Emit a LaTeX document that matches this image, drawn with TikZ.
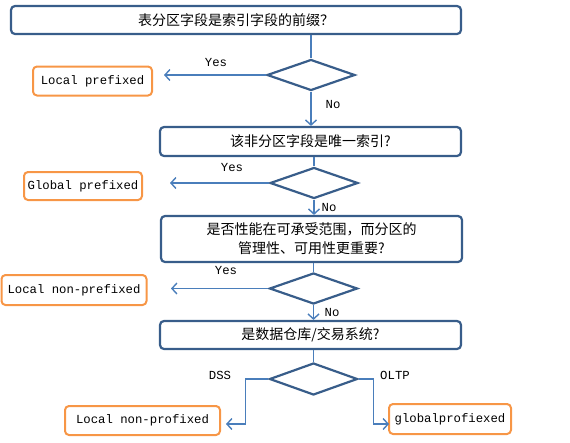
\documentclass[tikz,border=0pt]{standalone}
\usepackage{fontspec}
\setmainfont{Liberation Mono}
\newfontfamily\cjkfont{Noto Sans CJK SC}
\usepackage{xcolor}
\usepackage{tikz}
\usetikzlibrary{shapes.geometric,arrows.meta,positioning}
\definecolor{boxblue}{HTML}{385D8A}
\definecolor{lineblue}{HTML}{4A7EBB}
\definecolor{leaforange}{HTML}{F79646}

\begin{document}
\begin{tikzpicture}[
    x=1pt, y=-1pt,
    qbox/.style={rectangle, draw=boxblue, line width=2.2pt, rounded corners=4pt, minimum width=301pt, minimum height=29pt, align=center, inner sep=2pt, font=\cjkfont\fontsize{14}{19}\selectfont},
    choice/.style={diamond, draw=boxblue, line width=2.2pt, minimum width=88pt, minimum height=31pt, inner sep=0pt},
    leaf/.style={rectangle, draw=leaforange, line width=2pt, rounded corners=4pt, minimum height=29pt, inner sep=2pt, font=\fontsize{12.3}{14}\selectfont},
    lbl/.style={font=\fontsize{12.3}{14}\selectfont, inner sep=0pt},
    link/.style={draw=lineblue, line width=1.4pt},
    arr/.style={link, -{Straight Barb[length=5pt,width=11pt]}}
]
    \useasboundingbox (0,0) rectangle (570,442);

    % Questions
    \node[qbox, minimum width=450pt, minimum height=28pt] (q1) at (236,20) {表分区字段是索引字段的前缀？};
    \node[qbox] (q2) at (310.5,141.5) {该非分区字段是唯一索引?};
    \node[qbox, minimum height=46pt] (q3) at (311.5,239) {是否性能在可承受范围，而分区的\\管理性、可用性更重要?};
    \node[qbox, minimum height=28pt] (q4) at (310.5,335) {是数据仓库/交易系统?};

    % Decisions
    \node[choice] (d1) at (311,75) {};
    \node[choice] (d2) at (314,183) {};
    \node[choice] (d3) at (313.5,288.5) {};
    \node[choice, minimum height=32pt] (d4) at (313.5,379) {};

    % Answers
    \node[leaf, minimum width=119pt] (lp) at (92.5,81) {Local prefixed};
    \node[leaf, minimum width=118pt, minimum height=28pt] (gp) at (83,186) {Global prefixed};
    \node[leaf, minimum width=145pt, minimum height=30pt] (lnp) at (74,290) {Local non-prefixed};
    \node[leaf, minimum width=155pt] (lnpo) at (142.5,420.5) {Local non-profixed};
    \node[leaf, minimum width=122pt, minimum height=30pt] (gpo) at (450,419) {globalprofiexed};

    % Free ends of the Yes arrows
    \coordinate (y1) at (164,75);
    \coordinate (y2) at (170,183);
    \coordinate (y3) at (171,288.5);
    \coordinate (dss) at (226,424);
    \coordinate (oltp) at (389,424);

    % Connections
    \draw[link] (d1.north |- q1.south) -- (d1.north);
    \draw[arr] (d1.south) -- (d1.south |- q2.north);
    \draw[arr] (d1.west) -- (y1);
    \draw[link] (d2.north |- q2.south) -- (d2.north);
    \draw[arr] (d2.south) -- (d2.south |- q3.north);
    \draw[arr] (d2.west) -- (y2);
    \draw[link] (d3.north |- q3.south) -- (d3.north);
    \draw[arr] (d3.south) -- (d3.south |- q4.north);
    \draw[arr] (d3.west) -- (y3);
    \draw[link] (d4.north |- q4.south) -- (d4.north);
    \draw[arr] (d4.west) -- ++(-23,0) |- (dss);
    \draw[arr] (d4.east) -- ++(15,0) |- (oltp);

    % Labels
    \node[lbl] (yes1) at (216,63) {Yes};
    \node[lbl] (no1) at (333,105) {No};
    \node[lbl] (yes2) at (232,168) {Yes};
    \node[lbl] (no2) at (329,208) {No};
    \node[lbl] (yes3) at (226,271) {Yes};
    \node[lbl] (no3) at (332,313) {No};
    \node[lbl] (dsslbl) at (220,375) {DSS};
    \node[lbl] (oltplbl) at (395,375) {OLTP};
\end{tikzpicture}
\end{document}
